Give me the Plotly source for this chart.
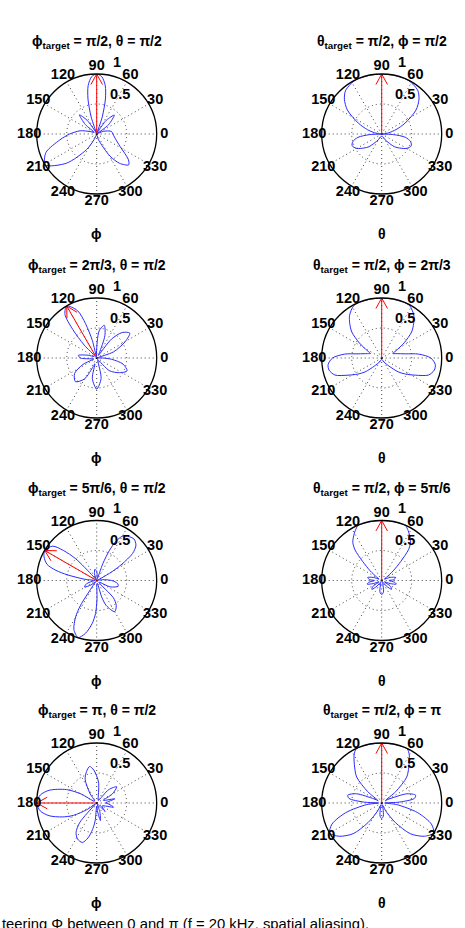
import plotly.graph_objects as go

W, H = 465, 928

# ---------------- data ----------------
p1_theta = [0, 10, 22, 30, 38, 47, 55, 62, 68, 72, 76, 80, 85, 90, 95, 100, 104, 108, 112, 118, 125, 132, 140, 148,
            160, 169, 180, 189, 200, 211, 224, 237, 245, 255, 270, 280, 287, 301, 308, 316, 321, 332, 348, 360]
p1_r = [.27, .25, .12, .02, .25, .43, .28, .05, .02, .3, .6, .82, .96, 1.0, .96, .82, .6, .3, .02, .05, .28, .43, .25, .05,
        .12, .28, .45, .62, .9, 1.0, .7, .31, .1, .02, .02, .02, .1, .43, .62, .74, .68, .44, .31, .27]

p2_theta = [0, 3, 10, 17, 25, 35, 43, 50, 58, 65, 77, 90, 103, 115, 122, 130, 137, 145, 155, 163, 170, 177, 180,
            183, 188, 195, 202, 210, 218, 225, 240, 255, 270, 285, 300, 315, 322, 330, 338, 345, 352, 357, 360]
p2_r = [0, .03, .12, .25, .43, .7, .85, .94, .98, 1, 1, 1, 1, 1, .98, .94, .85, .7, .43, .25, .12, .03, 0,
        .2, .4, .5, .53, .48, .38, .3, .11, .04, .04, .04, .11, .3, .38, .48, .53, .5, .4, .2, 0]

p3_theta = [0, 8, 20, 30, 37, 45, 52, 58, 63, 70, 77, 85, 92, 98, 104, 108, 112, 120, 126, 130, 134, 138, 150,
            162, 172, 180, 190, 198, 205, 215, 228, 240, 248, 253, 258, 270, 282, 290, 300, 315, 327, 337, 347, 355, 360]
p3_r = [.1, .02, .3, .55, .69, .6, .4, .05, .1, .4, .56, .45, .1, .02, .3, .6, .85, 1.0, .9, .62, .3, .05, .05,
        .15, .31, .27, .08, .05, .25, .45, .53, .4, .15, .1, .35, .52, .35, .05, .03, .3, .45, .55, .45, .25, .1]

p4_theta = [0, 6, 10, 17, 22, 27, 34, 41, 47, 53, 62, 70, 80, 90, 100, 110, 118, 127, 133, 139, 146, 153, 158, 163,
            170, 174, 180, 187, 193, 200, 207, 214, 220, 228, 240, 255, 270, 285, 300, 312, 320, 326, 333, 340, 347,
            353, 360]
p4_r = [.82, .62, .4, .25, .2, .27, .45, .66, .78, .89, .99, 1, 1, 1, 1, 1, .99, .89, .78, .66, .45, .27, .2, .25,
        .4, .62, .82, .9, .9, .83, .63, .48, .36, .18, .08, .03, .02, .03, .08, .18, .36, .48, .63, .83, .9,
        .9, .82]

p5_theta = [0, 8, 15, 22, 27, 30, 33, 37, 42, 48, 55, 60, 64, 67, 70, 72, 80, 90, 99, 108, 118, 126, 130, 134, 138,
            142, 150, 156, 162, 166, 169, 174, 178, 186, 198, 208, 218, 228, 234, 237, 240, 245, 252, 258, 264, 268,
            271, 275, 282, 287, 291, 300, 308, 314, 318, 326, 335, 345, 352, 360]
p5_r = [.25, .1, .02, .02, .08, .3, .5, .75, .88, .93, .9, .85, .72, .55, .3, .03, .05, .15, .19, .12, .02, .02, .1,
        .5, .75, .93, 1.0, .96, .87, .7, .5, .2, .03, .05, .18, .23, .12, .03, .1, .5, .7, .9, 1.0, .9, .72, .55,
        .3, .05, .05, .3, .45, .6, .53, .4, .05, .05, .25, .37, .35, .25]

p6_theta = [0, 4, 12, 20, 28, 34, 40, 45, 49, 53, 58, 62, 67, 77, 90, 103, 113, 118, 122, 127, 131, 135, 140, 146,
            152, 160, 168, 176, 180, 188, 194, 200, 206, 214, 222, 230, 238, 250, 260, 265, 270, 275, 280, 290, 302,
            310, 318, 326, 334, 340, 346, 352, 360]
p6_r = [.12, .2, .24, .15, .05, .1, .25, .45, .68, .8, .88, .94, 1, 1, 1, 1, 1, .94, .88, .8, .68, .45, .25, .1,
        .05, .15, .24, .2, .12, .22, .25, .15, .05, .18, .22, .12, .03, .05, .18, .22, .23, .22, .18, .05, .03,
        .12, .22, .18, .05, .15, .25, .22, .12]

p7_theta = [0, 13, 22, 30, 39, 48, 60, 75, 85, 95, 101, 108, 116, 125, 135, 145, 150, 156, 165, 172, 180, 188, 195,
            202, 208, 214, 220, 224, 229, 235, 242, 250, 256, 261, 265, 270, 276, 282, 290, 298, 315, 330, 346, 355,
            360]
p7_r = [.15, .31, .12, .3, .43, .3, .05, .1, .35, .55, .62, .55, .44, .2, .05, .05, .3, .55, .82, .95, 1.0, .95, .82,
        .62, .44, .2, .03, .05, .43, .6, .68, .7, .6, .45, .3, .05, .15, .3, .15, .02, .2, .1, .29, .2,
        .15]

p8_theta = [0, 3, 8, 13, 20, 28, 34, 39, 46, 53, 60, 65, 77, 90, 103, 115, 120, 127, 134, 141, 146, 152, 160, 167,
            172, 177, 180, 186, 195, 203, 210, 218, 227, 235, 243, 250, 257, 263, 270, 277, 283, 290, 297, 305, 313,
            322, 330, 337, 345, 354, 360]
p8_r = [.05, .3, .55, .58, .45, .15, .08, .3, .6, .75, .92, 1, 1, 1, 1, 1, .92, .75, .6, .3, .08, .15, .45, .58,
        .55, .3, .05, .25, .62, .9, 1, .9, .7, .4, .15, .03, .1, .22, .26, .22, .1, .03, .15, .4, .7,
        .9, 1, .9, .62, .25, .05]

curves_theta = [p1_theta, p2_theta, p3_theta, p4_theta, p5_theta, p6_theta, p7_theta, p8_theta]
curves_r = [p1_r, p2_r, p3_r, p4_r, p5_r, p6_r, p7_r, p8_r]
target_angles = [90, 90, 120, 90, 150, 90, 180, 90]
titles = ["ϕ<sub>target</sub> = π/2, θ = π/2", "θ<sub>target</sub> = π/2, ϕ = π/2",
          "ϕ<sub>target</sub> = 2π/3, θ = π/2", "θ<sub>target</sub> = π/2, ϕ = 2π/3",
          "ϕ<sub>target</sub> = 5π/6, θ = π/2", "θ<sub>target</sub> = π/2, ϕ = 5π/6",
          "ϕ<sub>target</sub> = π, θ = π/2", "θ<sub>target</sub> = π/2, ϕ = π"]
xlabels = ["ϕ", "θ", "ϕ", "θ", "ϕ", "θ", "ϕ", "θ"]
angle_ticks = list(range(0, 360, 30))
angle_ticktext = [str(a) for a in angle_ticks]
radial_ticks = [0.5, 1]
radial_ticktext = ["0.5", "1"]
caption = "teering Φ between 0 and π (f = 20 kHz, spatial aliasing)."

# ---------------- layout constants ----------------
centers_x = [96.7, 381.7]
centers_y = [134, 358, 580.5, 803]
R = 60            # pixel radius of r = 1
RL = 1.3          # range of the overlay polar that carries the labels
FONT = "Liberation Sans, Arial, Helvetica, sans-serif"

fig = go.Figure()
layout = dict(width=W, height=H, margin=dict(l=0, r=0, t=0, b=0), paper_bgcolor="white",
              showlegend=False, annotations=[])


def dom(cx, cy, rad):
    return dict(x=[(cx - rad) / W, (cx + rad) / W], y=[1 - (cy + rad) / H, 1 - (cy - rad) / H])


hidden_radial = dict(range=[0, RL], visible=False, showgrid=False, showline=False, showticklabels=False, ticks="")
hidden_angular = dict(rotation=0, direction="counterclockwise", visible=False, showgrid=False, showline=False,
                      showticklabels=False, ticks="")

for i in range(8):
    col, row = i % 2, i // 2
    cx, cy = centers_x[col], centers_y[row]
    k_main = 2 * i + 1
    k_lab = 2 * i + 2
    main = "polar" if k_main == 1 else f"polar{k_main}"
    lab = f"polar{k_lab}"
    layout[main] = dict(
        domain=dom(cx, cy, R),
        bgcolor="white",
        radialaxis=dict(range=[0, 1], tickvals=radial_ticks, showticklabels=False, ticks="",
                        showline=False, showgrid=True, gridcolor="rgba(0,0,0,0.75)",
                        griddash="1px,3px", gridwidth=1),
        angularaxis=dict(rotation=0, direction="counterclockwise", tickvals=angle_ticks,
                         showticklabels=False, ticks="", showline=True, linecolor="black",
                         linewidth=1.3, showgrid=True, gridcolor="rgba(0,0,0,0.75)",
                         griddash="1px,3px", gridwidth=1),
    )
    layout[lab] = dict(domain=dom(cx, cy, R * RL), bgcolor="rgba(0,0,0,0)",
                       radialaxis=hidden_radial, angularaxis=hidden_angular)
    # beam pattern
    fig.add_trace(go.Scatterpolar(r=curves_r[i], theta=curves_theta[i], mode="lines",
                                  line=dict(color="#2b2bff", width=1, shape="spline", smoothing=0.8),
                                  subplot=main, hoverinfo="skip"))
    # steering arrow
    a = target_angles[i]
    fig.add_trace(go.Scatterpolar(r=[0, 1, None, 0.83, 1, 0.83],
                                  theta=[a, a, None, a + 6.7, a, a - 6.7], mode="lines",
                                  line=dict(color="red", width=1), subplot=main, hoverinfo="skip",
                                  connectgaps=False))
    # angle labels
    fig.add_trace(go.Scatterpolar(r=[1.125] * len(angle_ticks), theta=angle_ticks, mode="text",
                                  text=[f"<b>{t}</b>" for t in angle_ticktext], textposition="middle center",
                                  textfont=dict(family=FONT, size=14.5, color="black"),
                                  cliponaxis=False, subplot=lab, hoverinfo="skip"))
    # radial labels
    fig.add_trace(go.Scatterpolar(r=[0.76, 1.23], theta=[59, 74], mode="text",
                                  text=[f"<b>{t}</b>" for t in radial_ticktext], textposition="middle center",
                                  textfont=dict(family=FONT, size=14.5, color="black"),
                                  cliponaxis=False, subplot=lab, hoverinfo="skip"))
    # title
    layout["annotations"].append(dict(text=f"<b>{titles[i]}</b>", x=cx / W, y=1 - (cy - 92) / H, xref="paper",
                                      yref="paper", xanchor="center", yanchor="middle", showarrow=False,
                                      font=dict(family=FONT, size=14, color="black")))
    # axis label
    layout["annotations"].append(dict(text=f"<b>{xlabels[i]}</b>", x=cx / W, y=1 - (cy + 100) / H, xref="paper",
                                      yref="paper", xanchor="center", yanchor="middle", showarrow=False,
                                      font=dict(family=FONT, size=14, color="black")))

layout["annotations"].append(dict(text=caption, x=0, y=1 - 924 / H, xref="paper", yref="paper",
                                  xanchor="left", yanchor="middle", showarrow=False,
                                  font=dict(family=FONT, size=14.8, color="black")))

fig.update_layout(**layout)
fig.write_html("out.html")
